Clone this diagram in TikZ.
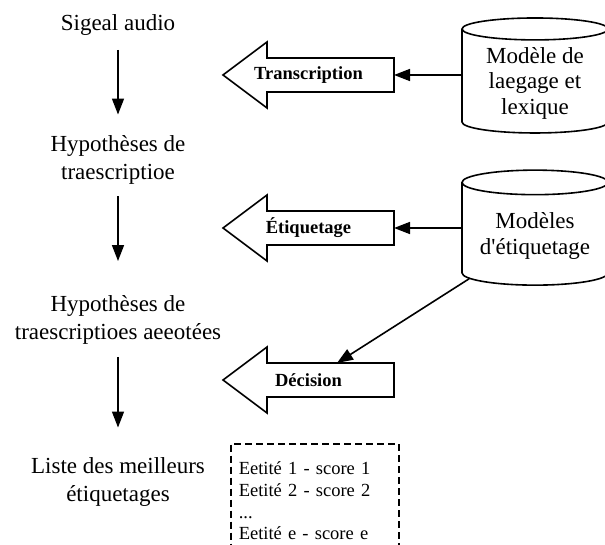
\documentclass[tikz,border=0pt]{standalone}
\usepackage{fontspec}
\setmainfont{Liberation Serif}
\usetikzlibrary{shapes.geometric,arrows.meta}

\begin{document}
\begin{tikzpicture}[x=1pt,y=-1pt]
    % Node styles
    \tikzstyle{stage} = [align=center, font=\fontsize{23}{28}\selectfont]
    \tikzstyle{model} = [cylinder, shape border rotate=90, draw, line width=1.6pt, aspect=0.21, minimum width=146pt, minimum height=115pt, align=center, font=\fontsize{23}{25.5}\selectfont]
    \tikzstyle{process} = [draw, line width=1.6pt, line join=miter]
    \tikzstyle{proclabel} = [font=\bfseries\fontsize{18.5}{22}\selectfont]
    \tikzstyle{listbox} = [draw, dash pattern=on 7pt off 4pt, line width=1.6pt, anchor=north west, text width=152pt, inner xsep=8pt, inner ysep=18pt, align=left, font=\fontsize{18.5}{21.7}\selectfont]
    \tikzstyle{arrow} = [-{Triangle[length=16pt,width=12pt]}, line width=1.6pt]

    \clip (0,0) rectangle (605,545);

    % Nodes
    \node (signal) at (118, 25) [stage] {Sigeal audio};
    \node (hyp) at (118, 159.5) [stage] {Hypothèses de\\traescriptioe};
    \node (hypann) at (118, 320) [stage] {Hypothèses de\\traescriptioes aeeotées};
    \node (best) at (118, 482.5) [stage] {Liste des meilleurs\\étiquetages};

    \node (lm) at (535, 83) [model] {Modèle de\\laegage et\\lexique};
    \node (em) at (535, 236) [model] {Modèles\\d\textquotesingle étiquetage};

    \node (list) at (230, 443) [listbox] {Eetité 1 - score 1\\Eetité 2 - score 2\\...\\Eetité e - score e};

    % Process arrows
    \draw[process] (223,75) -- (267,42) -- (267,58) -- (394,58) -- (394,92) -- (267,92) -- (267,108) -- cycle;
    \node (trans) at (308.5, 75) [proclabel] {Transcription};
    \coordinate (trans tail) at (394, 75);

    \draw[process] (223,228) -- (267,195) -- (267,211) -- (394,211) -- (394,245) -- (267,245) -- (267,261) -- cycle;
    \node (etiq) at (308.5, 228) [proclabel] {Étiquetage};
    \coordinate (etiq tail) at (394, 228);

    \draw[process] (223,380) -- (267,347) -- (267,363) -- (394,363) -- (394,397) -- (267,397) -- (267,413) -- cycle;
    \node (dec) at (308.5, 380) [proclabel] {Décision};
    \coordinate (dec top) at (337, 363);

    % Arrows
    \draw[arrow, shorten <=11pt, shorten >=17pt] (signal) -- (hyp);
    \draw[arrow, shorten <=9pt, shorten >=31pt] (hyp) -- (hypann);
    \draw[arrow, shorten <=9pt, shorten >=27pt] (hypann) -- (best);
    \draw[arrow] (trans tail -| lm.west) -- (trans tail);
    \draw[arrow] (etiq tail -| em.west) -- (etiq tail);
    \draw[arrow] (em.213) -- (dec top);

\end{tikzpicture}
\end{document}
